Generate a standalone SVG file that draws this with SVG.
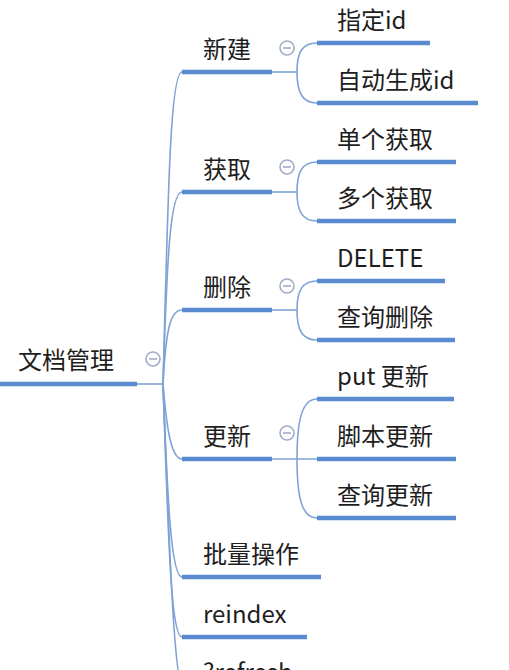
<svg xmlns="http://www.w3.org/2000/svg" width="509" height="670" viewBox="0 0 509 670">
<style>
text{font-family:"Noto Sans CJK SC","Noto Sans",sans-serif;font-size:24px;fill:#1e1e1e}
.ul{stroke:#5a8ad0;stroke-width:4.5;stroke-linecap:butt}
.cn{fill:none;stroke:#7fa3d6;stroke-width:1.6}
.col circle{fill:#fff;stroke:#a3abc8;stroke-width:1.6}
.col line{stroke:#a3abc8;stroke-width:1.6}
</style>
<rect width="509" height="670" fill="#fff"/>
<g id="connectors">
<line class="cn" x1="137" y1="384" x2="163" y2="384"/>
<path class="cn" d="M163,384 C168,200 170,72 182,72"/>
<path class="cn" d="M163,384 C167,260 170,192 182,192"/>
<path class="cn" d="M163,384 C166,330 170,310 182,310"/>
<path class="cn" d="M163,384 C166,420 170,459 182,459"/>
<path class="cn" d="M163,384 C167,480 170,577 182,577"/>
<path class="cn" d="M163,384 C168,520 170,637 182,637"/>
<path class="cn" d="M163,384 C170,560 174,697 186,697"/>
<line class="cn" x1="272" y1="72" x2="297" y2="72"/>
<path class="cn" d="M297,72 C297,52 302,43 317,43"/>
<path class="cn" d="M297,72 C297,92 302,103 317,103"/>
<line class="cn" x1="272" y1="192" x2="297" y2="192"/>
<path class="cn" d="M297,192 C297,172 302,162 317,162"/>
<path class="cn" d="M297,192 C297,211 302,221 317,221"/>
<line class="cn" x1="272" y1="310" x2="297" y2="310"/>
<path class="cn" d="M297,310 C297,291 302,281 317,281"/>
<path class="cn" d="M297,310 C297,330 302,340 317,340"/>
<line class="cn" x1="272" y1="459" x2="317" y2="459"/>
<path class="cn" d="M297,459 C297,420 302,399 317,399"/>
<path class="cn" d="M297,459 C297,498 302,518 317,518"/>
</g>
<g id="root">
<text x="18" y="369">文档管理</text>
<line class="ul" x1="0" y1="384" x2="137" y2="384"/>
<g class="col"><circle cx="153" cy="359" r="7"/><line x1="149" y1="359" x2="157" y2="359"/></g>
</g>
<g id="n-xinjian">
<text x="203" y="58">新建</text>
<line class="ul" x1="182" y1="72" x2="272" y2="72"/>
<g class="col"><circle cx="287" cy="48" r="7"/><line x1="283" y1="48" x2="291" y2="48"/></g>
</g>
<g id="n-huoqu">
<text x="203" y="178">获取</text>
<line class="ul" x1="182" y1="192" x2="272" y2="192"/>
<g class="col"><circle cx="287" cy="167" r="7"/><line x1="283" y1="167" x2="291" y2="167"/></g>
</g>
<g id="n-shanchu">
<text x="203" y="296">删除</text>
<line class="ul" x1="182" y1="310" x2="272" y2="310"/>
<g class="col"><circle cx="287" cy="286" r="7"/><line x1="283" y1="286" x2="291" y2="286"/></g>
</g>
<g id="n-gengxin">
<text x="203" y="445">更新</text>
<line class="ul" x1="182" y1="459" x2="272" y2="459"/>
<g class="col"><circle cx="287" cy="433" r="7"/><line x1="283" y1="433" x2="291" y2="433"/></g>
</g>
<g id="n-piliang">
<text x="203" y="563">批量操作</text>
<line class="ul" x1="182" y1="577" x2="321" y2="577"/>
</g>
<g id="n-reindex">
<text x="203" y="623">reindex</text>
<line class="ul" x1="182" y1="637" x2="307" y2="637"/>
</g>
<g id="n-refresh">
<text x="203" y="681">?refresh</text>
</g>
<g id="c-zhiding">
<text x="337" y="29">指定id</text>
<line class="ul" x1="317" y1="43" x2="430" y2="43"/>
</g>
<g id="c-zidong">
<text x="337" y="89">自动生成id</text>
<line class="ul" x1="317" y1="103" x2="478" y2="103"/>
</g>
<g id="c-dange">
<text x="337" y="148">单个获取</text>
<line class="ul" x1="317" y1="162" x2="456" y2="162"/>
</g>
<g id="c-duoge">
<text x="337" y="207">多个获取</text>
<line class="ul" x1="317" y1="221" x2="456" y2="221"/>
</g>
<g id="c-delete">
<text x="337" y="267">DELETE</text>
<line class="ul" x1="317" y1="281" x2="445" y2="281"/>
</g>
<g id="c-chaxunshanchu">
<text x="337" y="326">查询删除</text>
<line class="ul" x1="317" y1="340" x2="455" y2="340"/>
</g>
<g id="c-put">
<text x="337" y="385">put 更新</text>
<line class="ul" x1="317" y1="399" x2="454" y2="399"/>
</g>
<g id="c-jiaoben">
<text x="337" y="445">脚本更新</text>
<line class="ul" x1="317" y1="459" x2="456" y2="459"/>
</g>
<g id="c-chaxungengxin">
<text x="337" y="504">查询更新</text>
<line class="ul" x1="317" y1="518" x2="456" y2="518"/>
</g>
</svg>
